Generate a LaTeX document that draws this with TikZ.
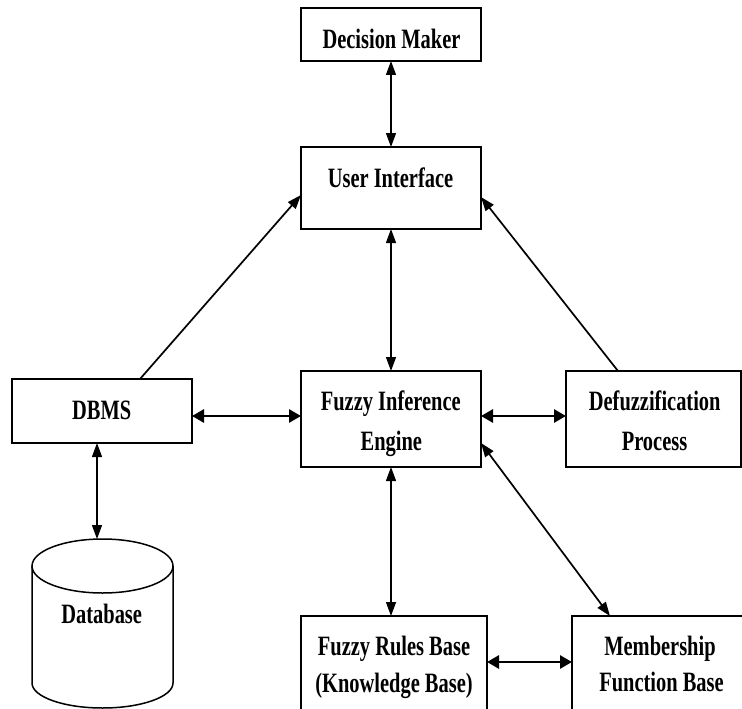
\documentclass[tikz,border=0pt]{standalone}
\usepackage{fontspec}
\setmainfont{Liberation Serif}[FakeStretch=0.73]
\usetikzlibrary{arrows.meta,calc}
\tikzset{
  box/.style={draw=black, line width=1.5pt, rectangle, inner sep=0pt, outer sep=0pt},
  lbl/.style={anchor=base, inner sep=0pt, font=\fontsize{28pt}{30pt}\selectfont\bfseries},
  thin/.style={line width=1.3pt, {Triangle[length=14pt,width=10pt]}-{Triangle[length=14pt,width=10pt]}},
  thick/.style={line width=2.8pt, {Triangle[length=12pt,width=13pt]}-{Triangle[length=12pt,width=13pt]}},
  diag/.style={line width=1.7pt},
  tip/.style={-{Triangle[length=14pt,width=10pt]}}
}
\begin{document}
\begin{tikzpicture}[x=1pt,y=-1pt]
\useasboundingbox (0,0) rectangle (742,709);
\clip (0,0) rectangle (742,709);
\fill[white] (0,0) rectangle (742,709);
% boxes
\node[box, minimum width=180pt, minimum height=53pt] (dm) at (391,34.5) {};
\node[box, minimum width=180pt, minimum height=82pt] (ui) at (391,188) {};
\node[box, minimum width=180pt, minimum height=64pt] (dbms) at (102,411) {};
\node[box, minimum width=180pt, minimum height=96pt] (fie) at (391,419) {};
\node[box, minimum width=175pt, minimum height=96pt] (def) at (653.5,419) {};
\node[box, minimum width=186pt, minimum height=144pt] (frb) at (394,688) {};
\node[box, minimum width=228pt, minimum height=144pt] (mfb) at (686,688) {};
% database cylinder
\draw[line width=1.5pt] (102.5,566) ellipse [x radius=70.5, y radius=27];
\draw[line width=1.5pt] (32,566) -- (32,683) arc [start angle=180, end angle=0, x radius=70.5, y radius=25] -- (173,566);
\coordinate (dbtop) at (97,539);
% labels
\node[lbl] (dmt) at (391.5,49) {Decision Maker};
\node[lbl] (uit) at (390.5,187) {User Interface};
\node[lbl] (dbmst) at (101.7,419.3) {DBMS};
\node[lbl] (fie1) at (390.8,410) {Fuzzy Inference};
\node[lbl] (fie2) at (391.3,450.5) {Engine};
\node[lbl] (def1) at (654.7,410) {Defuzzification};
\node[lbl] (def2) at (654.5,450.5) {Process};
\node[lbl] (dbt) at (101.7,623.3) {Database};
\node[lbl] (frb1) at (394,655.7) {Fuzzy Rules Base};
\node[lbl] (frb2) at (394,692.5) {(Knowledge Base)};
\node[lbl] (mfb1) at (660,655) {Membership};
\node[lbl] (mfb2) at (661.5,691.7) {Function Base};
% connectors
\draw[thin] (dm.south) -- (ui.north);
\draw[thin] (ui.south) -- (fie.north);
\draw[diag, tip] ([xshift=38pt]dbms.north) -- ([yshift=-7pt]ui.west);
\draw[diag, tip] ([xshift=-35.5pt]def.north) -- ([yshift=-9pt]ui.east);
\draw[thick] ([yshift=-5pt]dbms.east) -- ([yshift=3pt]fie.west);
\draw[thick] ([yshift=3pt]fie.east) -- ([yshift=3pt]def.west);
\draw[thin] ([xshift=-5pt]dbms.south) -- (dbtop);
\draw[thin] (fie.south) -- (fie.south |- frb.north);
\draw[thin, diag] ([yshift=-24pt]fie.east) -- ([xshift=38pt]mfb.north west);
\draw[thick] ([yshift=26pt]frb.east) -- ([yshift=26pt]mfb.west);
\end{tikzpicture}
\end{document}
